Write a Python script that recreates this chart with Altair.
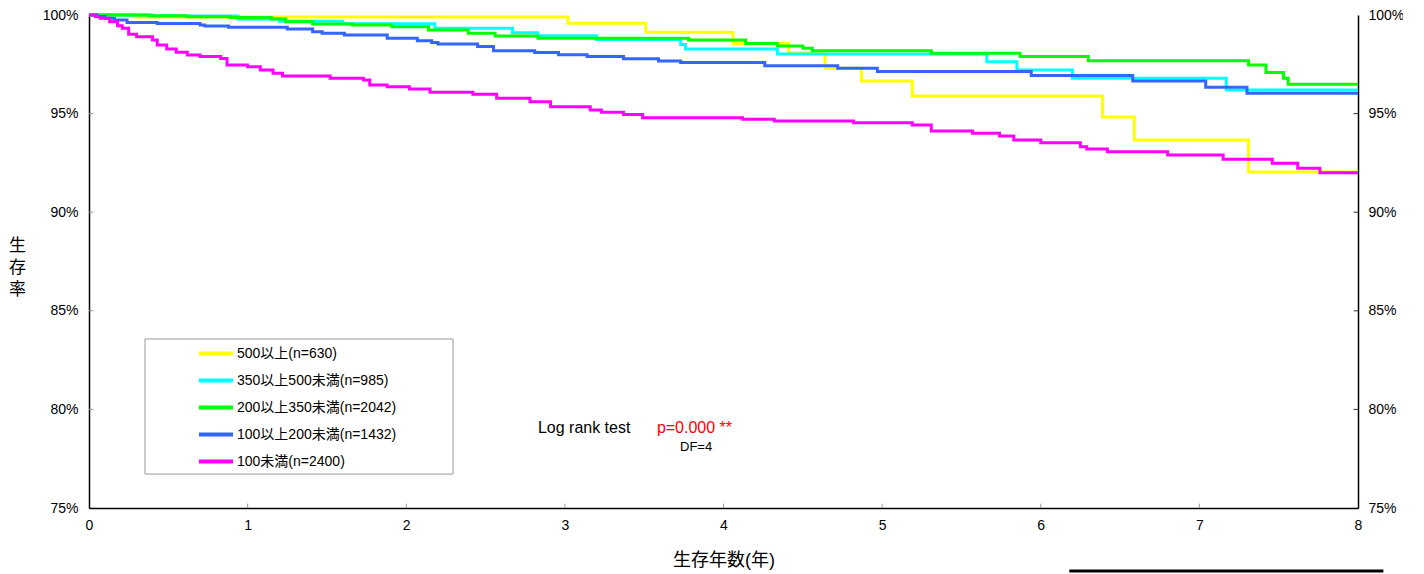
import altair as alt
import pandas as pd

FONT = "'Liberation Sans', 'Noto Sans CJK JP', Arial, sans-serif"

series_names = ["500以上(n=630)", "350以上500未満(n=985)", "200以上350未満(n=2042)",
                "100以上200未満(n=1432)", "100未満(n=2400)"]
series_colors = ["#FFFF00", "#00FFFF", "#00FF00", "#3366FF", "#FF00FF"]

yellow_t = [0, 0.30, 3.02, 3.51, 4.06, 4.41, 4.64, 4.87, 5.19, 6.39, 6.59, 7.31, 8.0]
yellow_s = [100, 99.90, 99.58, 99.12, 98.56, 98.09, 97.30, 96.65, 95.89, 94.83, 93.66, 92.04, 92.04]

cyan_t = [0, 0.40, 0.94, 1.20, 1.60, 2.18, 2.67, 2.83, 3.20, 3.73, 3.76, 4.34, 5.66, 5.85, 6.20, 7.17, 8.0]
cyan_s = [100, 99.95, 99.80, 99.68, 99.55, 99.33, 99.10, 98.95, 98.76, 98.51, 98.27, 98.02, 97.63,
          97.21, 96.79, 96.20, 96.20]

green_t = [0, 0.38, 0.62, 0.89, 1.15, 1.24, 1.41, 1.66, 1.91, 2.14, 2.39, 2.56, 2.83, 3.78, 4.14,
           4.34, 4.50, 4.56, 5.31, 5.87, 6.30, 7.31, 7.42, 7.53, 7.56, 8.0]
green_s = [100, 99.96, 99.91, 99.87, 99.80, 99.66, 99.54, 99.49, 99.41, 99.24, 99.07, 98.94, 98.82,
           98.73, 98.56, 98.43, 98.31, 98.19, 98.06, 97.89, 97.68, 97.46, 97.09, 96.79, 96.49, 96.49]

blue_t = [0, 0.05, 0.10, 0.16, 0.24, 0.43, 0.70, 0.73, 0.88, 1.25, 1.41, 1.47, 1.61, 1.88, 2.07,
          2.16, 2.20, 2.45, 2.55, 2.81, 2.96, 3.14, 3.37, 3.59, 3.73, 4.26, 4.72, 4.97, 5.94, 6.58,
          7.04, 7.30, 8.0]
blue_s = [100, 99.92, 99.83, 99.75, 99.62, 99.57, 99.49, 99.44, 99.38, 99.29, 99.15, 99.07, 98.99,
          98.82, 98.70, 98.60, 98.53, 98.40, 98.19, 98.10, 97.99, 97.90, 97.78, 97.67, 97.59, 97.43,
          97.30, 97.13, 96.93, 96.65, 96.33, 96.03, 96.03]

magenta_t = [0, 0.04, 0.07, 0.13, 0.18, 0.21, 0.25, 0.30, 0.40, 0.43, 0.49, 0.55, 0.62, 0.70, 0.83,
             0.87, 1.00, 1.08, 1.16, 1.22, 1.52, 1.73, 1.77, 1.88, 2.02, 2.15, 2.42, 2.57, 2.78, 2.91,
             3.16, 3.23, 3.37, 3.49, 4.12, 4.32, 4.82, 5.19, 5.31, 5.57, 5.74, 5.83, 6.00, 6.25, 6.29,
             6.42, 6.80, 7.15, 7.46, 7.62, 7.76, 8.0]
magenta_s = [100, 99.92, 99.83, 99.66, 99.46, 99.33, 99.02, 98.90, 98.73, 98.48, 98.28, 98.11, 97.97,
             97.89, 97.80, 97.46, 97.38, 97.21, 97.04, 96.91, 96.79, 96.70, 96.45, 96.36, 96.25, 96.08,
             95.98, 95.78, 95.60, 95.35, 95.18, 95.07, 94.96, 94.79, 94.71, 94.62, 94.54, 94.42, 94.12,
             94.00, 93.86, 93.66, 93.52, 93.32, 93.20, 93.07, 92.90, 92.68, 92.48, 92.23, 92.00, 92.00]

all_t = [yellow_t, cyan_t, green_t, blue_t, magenta_t]
all_s = [yellow_s, cyan_s, green_s, blue_s, magenta_s]

rows = []
for name, ts, ss in zip(series_names, all_t, all_s):
    for t, s in zip(ts, ss):
        rows.append({"series": name, "t": t, "s": s})
df = pd.DataFrame(rows)

# annotation texts
ann_text = ["Log rank test", "p=0.000 **", "DF=4"]
ann_t = [2.83, 3.58, 3.726]
ann_s = [79.06, 79.06, 78.09]
ann_color = ["#000000", "#FF0000", "#000000"]
ann_size = [16, 16, 13]
ann_df = pd.DataFrame({"t": ann_t, "s": ann_s, "text": ann_text, "c": ann_color, "fs": ann_size})

# legend frame (in data units)
frame_df = pd.DataFrame({"t": [0.353], "t2": [2.295], "s": [83.57], "s2": [76.72]})

# stray underline seen at the bottom-right edge of the reference
underline_df = pd.DataFrame({"t": [6.18], "t2": [8.16], "s": [71.80]})

# inner tick marks
y_tick_vals = [80, 85, 90, 95]
x_tick_vals = [1, 2, 3, 4, 5, 6, 7]
left_ticks = pd.DataFrame({"t": [0.0] * 4, "t2": [0.028] * 4, "s": y_tick_vals})
right_ticks = pd.DataFrame({"t": [7.972] * 4, "t2": [8.0] * 4, "s": y_tick_vals})
bottom_ticks = pd.DataFrame({"t": x_tick_vals, "s": [75.0] * 7, "s2": [75.22] * 7})

x_scale = alt.Scale(domain=[0, 8], nice=False, zero=False)
y_scale = alt.Scale(domain=[75, 100], nice=False, zero=False)
color_scale = alt.Scale(domain=series_names, range=series_colors)

x_axis = alt.Axis(values=list(range(0, 9)), format="d", grid=False, tickSize=0, labelPadding=10,
                  labelFontSize=14, labelFont=FONT, labelColor="#000000", labelFlush=False,
                  domainColor="#000000", domainWidth=1.5,
                  title="生存年数(年)", titleFont=FONT, titleFontSize=18, titleFontWeight="normal",
                  titleColor="#000000", titleY=52, titleBaseline="middle")

y_vals = [75, 80, 85, 90, 95, 100]
y_left_axis = alt.Axis(orient="left", values=y_vals, labelExpr="datum.value + '%'", grid=False,
                       tickSize=0, labelPadding=11, labelFontSize=14, labelFont=FONT,
                       labelColor="#000000", labelFlush=False,
                       domainColor="#000000", domainWidth=1.5,
                       title=["生", "存", "率"], titleAngle=0, titleFont=FONT, titleFontSize=17,
                       titleFontWeight="normal", titleColor="#000000", titleLineHeight=22,
                       titleX=-72, titleY=222, titleAlign="center", titleBaseline="top")
y_right_axis = alt.Axis(orient="right", values=y_vals, labelExpr="datum.value + '%'", grid=False,
                        tickSize=0, labelPadding=10, labelFontSize=14, labelFont=FONT,
                        labelColor="#000000", labelFlush=False,
                        domainColor="#000000", domainWidth=1.5, title=None)

frame = alt.Chart(frame_df).mark_rect(fill="white", stroke="#999999", strokeWidth=1).encode(
    x=alt.X("t:Q", scale=x_scale, axis=x_axis),
    x2="t2:Q",
    y=alt.Y("s:Q", scale=y_scale, axis=None),
    y2="s2:Q",
)

lines = alt.Chart(df).mark_line(interpolate="step-after", strokeWidth=3).encode(
    x=alt.X("t:Q", scale=x_scale, axis=x_axis),
    y=alt.Y("s:Q", scale=y_scale, axis=y_left_axis),
    color=alt.Color("series:N", scale=color_scale, sort=series_names,
                    legend=alt.Legend(orient="none", legendX=108, legendY=325, title=None,
                                      symbolType="stroke", symbolSize=34 * 34, symbolStrokeWidth=4,
                                      labelFontSize=14, labelFont=FONT, labelColor="#000000",
                                      labelOffset=2, clipHeight=27, rowPadding=0, padding=0,
                                      labelLimit=400)),
    detail="series:N",
)

ann = alt.Chart(ann_df).mark_text(align="left", baseline="middle", font=FONT).encode(
    x=alt.X("t:Q", scale=x_scale, axis=x_axis),
    y=alt.Y("s:Q", scale=y_scale, axis=None),
    text="text:N",
    color=alt.Color("c:N", scale=None),
    size=alt.Size("fs:Q", scale=None),
)

lt = alt.Chart(left_ticks).mark_rule(color="#999999", strokeWidth=1).encode(
    x=alt.X("t:Q", scale=x_scale, axis=x_axis),
    x2="t2:Q",
    y=alt.Y("s:Q", scale=y_scale, axis=None),
)
bt = alt.Chart(bottom_ticks).mark_rule(color="#999999", strokeWidth=1).encode(
    x=alt.X("t:Q", scale=x_scale, axis=x_axis),
    y=alt.Y("s:Q", scale=y_scale, axis=None),
    y2="s2:Q",
)
rt = alt.Chart(right_ticks).mark_rule(color="#333333", strokeWidth=1).encode(
    x=alt.X("t:Q", scale=x_scale, axis=x_axis),
    x2="t2:Q",
    y=alt.Y("s:Q", scale=y_scale, axis=y_right_axis),
)
ul = alt.Chart(underline_df).mark_rule(color="#000000", strokeWidth=3).encode(
    x=alt.X("t:Q", scale=x_scale, axis=x_axis),
    x2="t2:Q",
    y=alt.Y("s:Q", scale=y_scale, axis=None),
)

chart = alt.layer(frame, lines, ann, lt, bt, rt, ul).resolve_scale(y="independent").properties(
    width=1269, height=493,
    autosize=alt.AutoSizeParams(type="none"),
    padding={"left": 81, "top": 7, "right": 45, "bottom": 66},
    background="white",
).configure_view(stroke=None)

chart.save("out.html", embed_options={"renderer": "svg", "actions": False})
